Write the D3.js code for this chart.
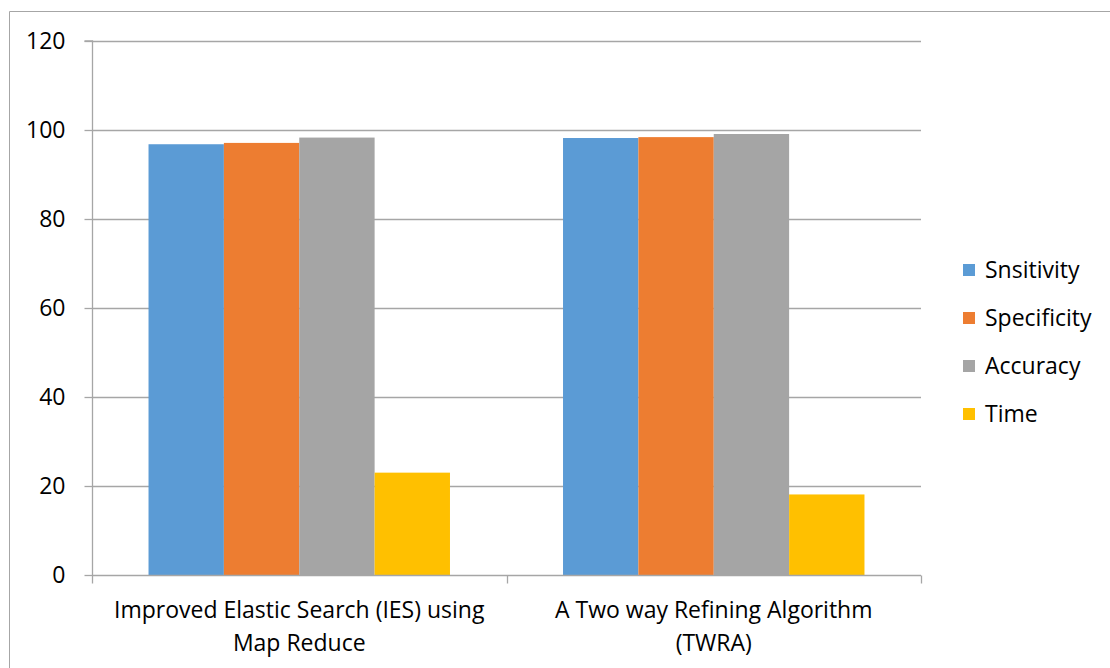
<!DOCTYPE html>
<html>
<head>
<meta charset="utf-8">
<script src="https://cdn.jsdelivr.net/npm/d3@7"></script>
<style>
  html, body { margin: 0; padding: 0; background: #fff; }
  svg { display: block; }
  text { font-family: "Open Sans", "Liberation Sans", sans-serif; fill: #000; }
</style>
</head>
<body>
<svg id="chart" width="1110" height="668"></svg>
<script>
// Methods compared (x categories), each label split over two lines
const categories = ["IES", "TWRA"];
const categoryLabels = [
  ["Improved Elastic Search (IES) using", "Map Reduce"],
  ["A Two way Refining Algorithm", "(TWRA)"]
];

// Metric series
const seriesNames = ["Snsitivity", "Specificity", "Accuracy", "Time"];
const seriesColors = ["#5b9bd5", "#ed7d31", "#a5a5a5", "#ffc000"];

// Values per series, in category order
const snsitivity  = [96.8, 98.2];
const specificity = [97.1, 98.4];
const accuracy    = [98.3, 99.1];
const time        = [23.0, 18.1];
const seriesValues = [snsitivity, specificity, accuracy, time];

const yTicks = [0, 20, 40, 60, 80, 100, 120];

const FONT_SIZE = "23px";

const svg = d3.select("#chart");

// outer chart frame
svg.append("path")
  .attr("d", "M1110,11.5 H9.5 V668")
  .attr("fill", "none")
  .attr("stroke", "#a6a6a6")
  .attr("stroke-width", 1);

const plot = { left: 92, right: 921, top: 41, bottom: 575 };

const x0 = d3.scaleBand()
  .domain(categories)
  .range([plot.left, plot.right])
  .paddingInner(0)
  .paddingOuter(0);

const x1 = d3.scaleBand()
  .domain(seriesNames)
  .range([0, x0.bandwidth()])
  .paddingOuter(0.75)
  .paddingInner(0);

const y = d3.scaleLinear()
  .domain([0, 120])
  .range([plot.bottom, plot.top]);

// horizontal gridlines
svg.append("g")
  .selectAll("line")
  .data(yTicks.filter(t => t > 0))
  .join("line")
  .attr("x1", plot.left)
  .attr("x2", plot.right)
  .attr("y1", d => Math.round(y(d)) + 0.5)
  .attr("y2", d => Math.round(y(d)) + 0.5)
  .attr("stroke", "#a6a6a6")
  .attr("stroke-width", 1.3);

// bars
const groups = svg.append("g")
  .selectAll("g")
  .data(categories)
  .join("g")
  .attr("transform", d => `translate(${x0(d)},0)`);

groups.selectAll("rect")
  .data((c, ci) => seriesNames.map((s, si) => ({ s, si, v: seriesValues[si][ci] })))
  .join("rect")
  .attr("x", d => x1(d.s))
  .attr("width", x1.bandwidth())
  .attr("y", d => y(d.v))
  .attr("height", d => y(0) - y(d.v))
  .attr("fill", d => seriesColors[d.si]);

// y axis
const yAxis = d3.axisLeft(y).tickValues(yTicks).tickSize(8).tickPadding(19);
const yg = svg.append("g")
  .attr("transform", `translate(${plot.left + 0.5},0)`)
  .call(yAxis);
yg.attr("font-size", null).attr("font-family", null);
yg.select(".domain").attr("stroke", "#a6a6a6").attr("stroke-width", 1.3)
  .attr("d", `M-8,${y(120)}H0V${y(0)}`);
yg.selectAll(".tick line").attr("stroke", "#a6a6a6").attr("stroke-width", 1.3);
yg.selectAll(".tick text")
  .style("font-size", FONT_SIZE)
  .attr("fill", "#000");

// x axis
const xg = svg.append("g")
  .attr("transform", `translate(0,${Math.round(plot.bottom) + 0.5})`);
xg.append("line")
  .attr("x1", plot.left).attr("x2", plot.right)
  .attr("stroke", "#a6a6a6").attr("stroke-width", 1.3);
const boundaries = [plot.left, ...categories.map(c => x0(c) + x0.bandwidth())];
xg.selectAll("line.tick")
  .data(boundaries)
  .join("line")
  .attr("class", "tick")
  .attr("x1", d => Math.round(d) + 0.5).attr("x2", d => Math.round(d) + 0.5)
  .attr("y1", 0).attr("y2", 8)
  .attr("stroke", "#a6a6a6").attr("stroke-width", 1.3);

// category labels
svg.append("g")
  .selectAll("text")
  .data(categories)
  .join("text")
  .attr("x", d => x0(d) + x0.bandwidth() / 2)
  .attr("y", 618)
  .attr("text-anchor", "middle")
  .style("font-size", FONT_SIZE)
  .each(function (d, i) {
    const t = d3.select(this);
    categoryLabels[i].forEach((line, li) => {
      t.append("tspan")
        .attr("x", x0(d) + x0.bandwidth() / 2)
        .attr("dy", li === 0 ? 0 : 33)
        .text(line);
    });
  });

// legend
const legend = svg.append("g")
  .selectAll("g")
  .data(seriesNames)
  .join("g")
  .attr("transform", (d, i) => `translate(963,${270 + i * 48})`);
legend.append("rect")
  .attr("x", 0).attr("y", -6)
  .attr("width", 12).attr("height", 12)
  .attr("fill", (d, i) => seriesColors[i]);
legend.append("text")
  .attr("x", 22)
  .attr("y", 8)
  .style("font-size", FONT_SIZE)
  .text(d => d);
</script>
</body>
</html>
